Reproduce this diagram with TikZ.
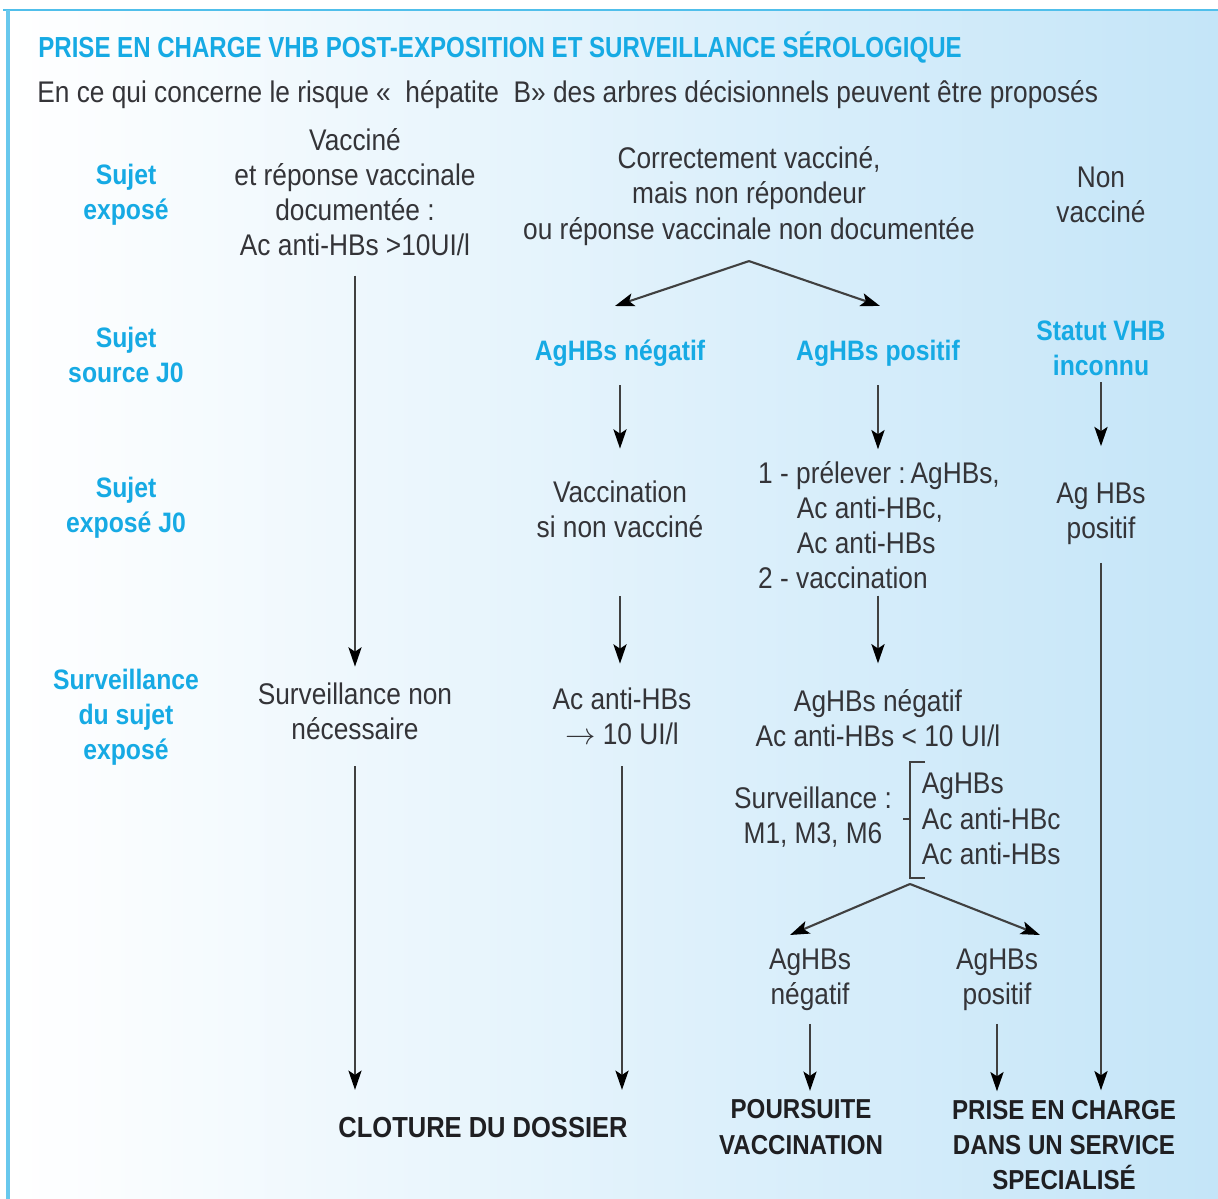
\documentclass[tikz,border=0pt]{standalone}
\usepackage{fontspec}
\setmainfont{Liberation Sans}[FakeStretch=0.88]
\newfontfamily\titlefont{Liberation Sans}[FakeStretch=0.83]
\usetikzlibrary{arrows.meta,calc}
\definecolor{vhbblue}{RGB}{22,170,228}
\definecolor{vhbtext}{RGB}{52,52,56}
\definecolor{vhbback}{RGB}{196,229,248}

\begin{document}
\begin{tikzpicture}[x=0.02cm,y=-0.02cm,>={Stealth[length=11pt,width=7.5pt,inset=2.5pt,color=black]},
  txt/.style={text=vhbtext,align=center,inner sep=2pt,font=\fontsize{17}{20}\selectfont},
  lbl/.style={text=vhbblue,align=center,inner sep=2pt,font=\fontsize{16}{20}\selectfont\bfseries},
  fin/.style={text=vhbtext!60!black,align=center,inner sep=2pt,font=\fontsize{15.6}{20}\selectfont\bfseries},
  arr/.style={->,line width=1.2pt,draw=black!75}]
\useasboundingbox (0,0) rectangle (1218,1199);
% fond et cadre
\shade[left color=white,right color=vhbback] (8,10) rectangle (1218,1199);
\draw[vhbblue!75,line width=1.6pt] (3,10) -- (1218,10);
\draw[vhbblue!65,line width=2pt] (8,10) -- (8,1199);
\draw (38,48) node[anchor=west,text=vhbblue,inner sep=0pt,font=\fontsize{16.5}{20}\titlefont\bfseries] (titre)
  {PRISE EN CHARGE VHB POST-EXPOSITION ET SURVEILLANCE SÉROLOGIQUE};
\draw (37,95) node[anchor=west,txt,inner sep=0pt] (intro)
  {En ce qui concerne le risque «\ \ hépatite\ \ B» des arbres décisionnels peuvent être proposés};
% colonne des etapes
\draw (126,195) node[lbl] (expo) {Sujet\\exposé};
\draw (126,355) node[lbl] (source) {Sujet\\source J0};
\draw (126,508) node[lbl] (expoj) {Sujet\\exposé J0};
\draw (126,717) node[lbl] (survlbl) {Surveillance\\du sujet\\exposé};
% statut du sujet expose
\draw (355,192) node[txt] (vacc) {Vacciné\\et réponse vaccinale\\documentée :\\Ac anti-HBs >10UI/l};
\draw (749,196) node[txt] (corr) {Correctement vacciné,\\mais non répondeur\\ou réponse vaccinale non documentée};
\draw (1101,195) node[txt] (nonvac) {Non\\vacciné};
% sujet source
\draw (620,353) node[lbl] (neg) {AgHBs négatif};
\draw (878,353) node[lbl] (pos) {AgHBs positif};
\draw (1101,348) node[lbl] (inconnu) {Statut VHB\\inconnu};
% sujet expose J0
\draw (620,509) node[txt] (vaccsi) {Vaccination\\si non vacciné};
\draw (879,525) node[txt,align=left] (prel) {1 - prélever :\,AgHBs,\\\hspace*{22pt}Ac anti-HBc,\\\hspace*{22pt}Ac anti-HBs\\2 - vaccination};
\draw (1101,514) node[txt] (aghbs) {Ag HBs\\positif};
% surveillance
\draw (355,711) node[txt] (survnon) {Surveillance non\\nécessaire};
\draw (622,716) node[txt] (acanti) {Ac anti-HBs\\$\rightarrow$ 10 UI/l};
\draw (878,718) node[txt] (negres) {AgHBs négatif\\Ac anti-HBs < 10 UI/l};
\draw (813,817) node[txt] (survm) {Surveillance :\\M1, M3, M6};
\draw (918,819) node[txt,anchor=west,align=left] (bilan) {AgHBs\\Ac anti-HBc\\Ac anti-HBs};
\draw[line width=1.2pt,black!75] (925,762) -| (910,878) -- (925,878);
\draw[line width=1.2pt,black!75] (903,819) -- (910,819);
\draw (810,980) node[txt] (fneg) {AgHBs\\négatif};
\draw (997,980) node[txt] (fpos) {AgHBs\\positif};
% issues
\draw (483,1128) node[fin,font=\fontsize{16.5}{20}\selectfont\bfseries] (clot) {CLOTURE DU DOSSIER};
\draw (801,1127) node[fin] (pours) {POURSUITE\\VACCINATION};
\draw (1064,1145) node[fin] (prise) {PRISE EN CHARGE\\DANS UN SERVICE\\SPECIALISÉ};
% fleches
\coordinate (apex) at ($(corr.south)+(0,12)$);
\coordinate (negin) at (615,306);
\coordinate (posin) at (880,306);
\coordinate (fork) at (910,884);
\coordinate (fnegin) at (790,935);
\coordinate (fposin) at (1040,935);
\draw[arr] (apex) -- (negin);
\draw[arr] (apex) -- (posin);
\draw[arr] (fork) -- (fnegin);
\draw[arr] (fork) -- (fposin);
\draw[arr,shorten <=0.32cm,shorten >=0.24cm] (vacc) -- (survnon);
\draw[arr,shorten <=0.46cm,shorten >=0.48cm] (survnon) -- (survnon |- clot.north);
\draw[arr,shorten <=0.3cm,shorten >=0.56cm] (neg) -- (neg |- vaccsi.north);
\draw[arr,shorten <=0.3cm,shorten >=0.16cm] (pos) -- (pos |- prel.north);
\draw[arr,shorten <=0.06cm,shorten >=0.66cm] (inconnu) -- (aghbs);
\draw[arr,shorten <=1.1cm,shorten >=0.4cm] (vaccsi) -- (vaccsi |- acanti.north);
\draw[arr,shorten <=0.06cm,shorten >=0.44cm] (prel.south -| negres) -- (negres);
\draw[arr,shorten <=0.28cm,shorten >=0.12cm] (aghbs) -- (aghbs |- prise.north);
\draw[arr,shorten <=0.36cm,shorten >=0.48cm] (acanti) -- (acanti |- clot.north);
\draw[arr,shorten <=0.18cm,shorten >=0.1cm] (fneg) -- (fneg |- pours.north);
\draw[arr,shorten <=0.18cm,shorten >=0.1cm] (fpos) -- (fpos |- prise.north);
\end{tikzpicture}
\end{document}
